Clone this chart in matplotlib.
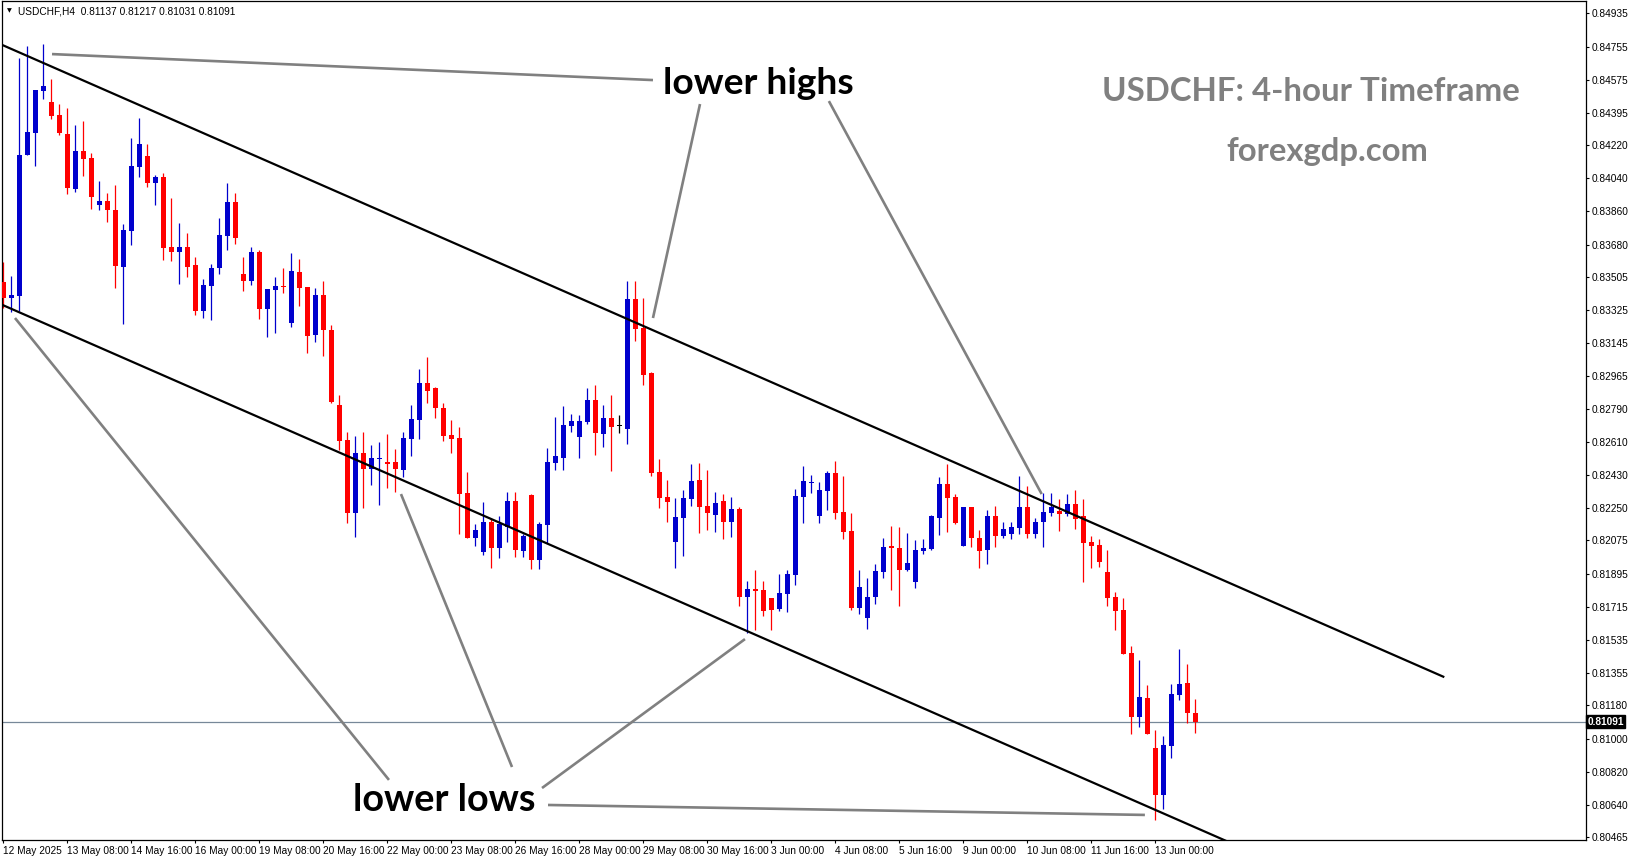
import numpy as np
import matplotlib
matplotlib.use("Agg")
import matplotlib.pyplot as plt
import matplotlib.transforms as mtransforms

# USDCHF H4 candles, prices in points (1e-5)
open_pts = [83479, 83392, 83403, 84166, 84287, 84513, 84454, 84383, 84280, 83983,
            84188, 84150, 83896, 83917, 83868, 83560, 83755, 84103, 84161, 84014,
            84047, 83667, 83642, 83667, 83569, 83320, 83455, 83553, 83727, 83911,
            83521, 83483, 83642, 83331, 83434, 83455, 83256, 83531, 83450, 83190,
            83407, 83217, 82810, 82620, 82226, 82551, 82464, 82517, 82501, 82501,
            82457, 82625, 82729, 82931, 82904, 82795, 82647, 82632, 82332, 82090,
            82014, 82177, 82036, 82146, 82291, 82018, 82322, 81969, 82159, 82497,
            82524, 82696, 82638, 82716, 82837, 82652, 82738, 82696, 82680, 83383,
            83229, 82985, 82448, 82311, 82068, 82198, 82302, 82403, 82262, 82213,
            82289, 82177, 82246, 81770, 81812, 81806, 81761, 81703, 81785, 81888,
            82313, 82388, 82209, 82345, 82441, 82228, 82126, 81707, 81656, 81767,
            81905, 82045, 82034, 81915, 81851, 82019, 82029, 82198, 82381, 82311,
            82047, 82257, 82090, 82023, 82208, 82101, 82112, 82144, 82257, 82112,
            82173, 82226, 82235, 82218, 82273, 82208, 82067, 82050, 81904, 81768,
            81698, 81465, 81119, 81220, 80949, 80696, 80962, 81237, 81302, 81137]
high_pts = [83587, 83510, 84691, 84757, 84519, 84768, 84578, 84443, 84420, 84329,
            84351, 84177, 84025, 83960, 84003, 83792, 84257, 84367, 84226, 84056,
            84067, 83931, 83799, 83743, 83611, 83495, 83575, 83824, 84014, 83960,
            83613, 83667, 83651, 83439, 83504, 83553, 83634, 83602, 83450, 83443,
            83483, 83244, 82864, 82663, 82642, 82665, 82593, 82611, 82652, 82570,
            82665, 82810, 83005, 83072, 82909, 82821, 82729, 82690, 82448, 82164,
            82282, 82190, 82208, 82336, 82336, 82110, 82327, 82177, 82575, 82746,
            82806, 82761, 82756, 82900, 82918, 82810, 82864, 82756, 83483, 83483,
            83389, 82990, 82517, 82403, 82307, 82349, 82490, 82494, 82457, 82338,
            82325, 82311, 82258, 81855, 81915, 81855, 81763, 81893, 81915, 82354,
            82479, 82430, 82394, 82452, 82506, 82425, 82222, 81915, 81870, 81947,
            82087, 82153, 82148, 82114, 82078, 82083, 82213, 82419, 82490, 82327,
            82257, 82257, 82132, 82240, 82262, 82175, 82175, 82425, 82370, 82197,
            82334, 82334, 82300, 82327, 82349, 82300, 82099, 82083, 82023, 81794,
            81761, 81502, 81426, 81291, 81047, 81014, 81296, 81486, 81405, 81217]
low_pts = [83335, 83316, 83320, 84166, 84108, 84470, 84363, 84275, 83956, 83967,
           84054, 83875, 83868, 83804, 83446, 83249, 83679, 84048, 83994, 83895,
           83597, 83593, 83466, 83504, 83298, 83284, 83271, 83521, 83651, 83683,
           83428, 83461, 83276, 83180, 83200, 83419, 83235, 83349, 83094, 83153,
           83076, 82819, 82566, 82171, 82095, 82253, 82376, 82267, 82361, 82340,
           82421, 82535, 82625, 82822, 82741, 82615, 82551, 82112, 82090, 82047,
           81996, 81927, 81978, 82068, 81987, 81987, 81918, 81918, 82060, 82457,
           82457, 82665, 82524, 82707, 82539, 82584, 82453, 82656, 82598, 83159,
           82918, 82425, 82253, 82177, 81927, 81992, 82264, 82117, 82132, 82122,
           82081, 82095, 81719, 81573, 81589, 81667, 81589, 81692, 81689, 81833,
           82171, 82331, 82171, 82240, 82190, 82081, 81698, 81676, 81593, 81729,
           81870, 81806, 81721, 81909, 81819, 82002, 82023, 82105, 82122, 82163,
           82047, 82041, 81927, 81949, 82041, 82090, 82083, 82112, 82087, 82087,
           82041, 82209, 82126, 82209, 82139, 81850, 81927, 81933, 81719, 81589,
           81461, 81023, 81065, 81025, 80559, 80618, 80896, 81210, 81083, 81031]
close_pts = [83389, 83407, 84166, 84291, 84519, 84540, 84379, 84287, 83989, 84188,
             84146, 83940, 83917, 83868, 83566, 83759, 84106, 84226, 84014, 84047,
             83663, 83642, 83667, 83559, 83320, 83461, 83553, 83732, 83911, 83716,
             83483, 83642, 83331, 83439, 83455, 83450, 83537, 83446, 83184, 83407,
             83217, 82824, 82616, 82226, 82551, 82464, 82522, 82522, 82491, 82464,
             82629, 82734, 82931, 82886, 82795, 82643, 82625, 82329, 82090, 82132,
             82177, 82036, 82164, 82291, 82023, 82101, 81969, 82164, 82502, 82533,
             82701, 82723, 82723, 82837, 82660, 82738, 82692, 82696, 83383, 83222,
             82974, 82443, 82307, 82285, 82204, 82307, 82399, 82258, 82222, 82280,
             82177, 82246, 81770, 81812, 81802, 81694, 81698, 81792, 81893, 82316,
             82399, 82394, 82349, 82441, 82222, 82122, 81707, 81821, 81767, 81909,
             82040, 82032, 81915, 81951, 82023, 82036, 82208, 82381, 82307, 82171,
             82257, 82090, 82019, 82208, 82101, 82137, 82148, 82257, 82112, 82175,
             82229, 82255, 82220, 82273, 82191, 82063, 82047, 81960, 81765, 81694,
             81461, 81119, 81226, 81025, 80696, 80965, 81242, 81296, 81137, 81091]

time_labels = ["12 May 2025", "13 May 08:00", "14 May 16:00", "16 May 00:00", "19 May 08:00",
               "20 May 16:00", "22 May 00:00", "23 May 08:00", "26 May 16:00", "28 May 00:00",
               "29 May 08:00", "30 May 16:00", "3 Jun 00:00", "4 Jun 08:00", "5 Jun 16:00",
               "9 Jun 00:00", "10 Jun 08:00", "11 Jun 16:00", "13 Jun 00:00"]

price_ticks = [0.84935, 0.84755, 0.84575, 0.84395, 0.84220, 0.84040, 0.83860, 0.83680,
               0.83505, 0.83325, 0.83145, 0.82965, 0.82790, 0.82610, 0.82430, 0.82250,
               0.82075, 0.81895, 0.81715, 0.81535, 0.81355, 0.81180, 0.81000, 0.80820,
               0.80640, 0.80465]

# channel lines (candle index, price)
upper_channel_x = [0, 180]
upper_channel_p = [0.84761, 0.81336]
lower_channel_x = [0, 180]
lower_channel_p = [0.83351, 0.79929]

# grey pointer lines (candle index, price)
pointers = [
    ([6.09, 81.21], [0.84714, 0.84573]),
    ([87.09, 81.21], [0.84443, 0.83282]),
    ([103.2, 129.8], [0.84459, 0.82327]),
    ([1.46, 48.21], [0.83282, 0.80776]),
    ([49.71, 63.59], [0.82327, 0.80846]),
    ([92.71, 67.34], [0.81540, 0.80732]),
    ([68.09, 142.7], [0.80640, 0.80586]),
]

o = np.array(open_pts) / 1e5
h = np.array(high_pts) / 1e5
l = np.array(low_pts) / 1e5
c = np.array(close_pts) / 1e5
idx = np.arange(len(o))

W, H = 1631, 861
fig = plt.figure(figsize=(W / 100, H / 100), dpi=100)
fig.patch.set_facecolor("white")
ax = fig.add_axes([2 / W, 21 / H, 1584 / W, 839 / H])
ax.set_xlim(-0.1625, 197.84)
ax.set_ylim(0.80450, 0.85002)

BLUE = "#0000CD"
RED = "#FF0000"
cols = np.where(c > o, BLUE, RED)
cols = np.where(c == o, "black", cols)

ax.vlines(idx, l, h, colors=cols, lw=0.9, zorder=2)
body_lo = np.minimum(o, c)
body_h = np.maximum(np.abs(c - o), 0.00006)
ax.bar(idx, body_h, bottom=body_lo, width=0.64, color=cols, lw=0, zorder=3)

# bid line
last = c[-1]
ax.axhline(last, color="#778899", lw=0.9, zorder=1)

# channel
ax.plot(upper_channel_x, upper_channel_p, color="black", lw=1.6, zorder=4)
ax.plot(lower_channel_x, lower_channel_p, color="black", lw=1.6, zorder=4)
for px, pp in pointers:
    ax.plot(px, pp, color="#808080", lw=1.9, zorder=5, solid_capstyle="butt")

# axes styling
for s in ax.spines.values():
    s.set_linewidth(0.9)
    s.set_color("black")
ax.yaxis.tick_right()
ax.set_yticks(price_ticks)
ax.set_yticklabels(["%.5f" % v for v in price_ticks])
ax.set_xticks(idx[::8])
ax.set_xticklabels(time_labels)
ax.tick_params(axis="both", direction="out", length=2.2, width=0.8, color="black",
               labelsize=7.3, pad=2)
for t in ax.get_xticklabels():
    t.set_ha("left")
    t.set_fontfamily("Liberation Sans")
for t in ax.get_yticklabels():
    t.set_fontfamily("Liberation Sans")

# bid price box
trans = mtransforms.blended_transform_factory(ax.transAxes, ax.transData)
ax.text(1.0008, last, "%.5f" % last, transform=trans, ha="left", va="center",
        fontsize=7.3, family="Liberation Sans", color="white", fontweight="bold",
        bbox=dict(boxstyle="square,pad=0.15", fc="black", ec="black"))

# header
fig.text(7 / W, 1 - 11 / H, "\u25bc", fontsize=4.5, va="center", ha="left", color="black")
fig.text(18 / W, 1 - 11 / H, "USDCHF,H4  %.5f %.5f %.5f %.5f" % (o[-1], h[-1], l[-1], c[-1]),
         fontsize=7.3, family="Liberation Sans", va="center", ha="left")

# annotations
fig.text(758 / W, 1 - 83 / H, "lower highs", fontsize=26.8, fontweight="bold",
         family="Lato", ha="center", va="center", color="black")
fig.text(444.5 / W, 1 - 800 / H, "lower lows", fontsize=27.2, fontweight="bold",
         family="Lato", ha="center", va="center", color="black")
fig.text(1310.5 / W, 1 - 91.5 / H, "USDCHF: 4-hour Timeframe", fontsize=23.8, fontweight="bold",
         family="Lato", ha="center", va="center", color="#808080")
fig.text(1327.5 / W, 1 - 151 / H, "forexgdp.com", fontsize=23.7, fontweight="bold",
         family="Lato", ha="center", va="center", color="#808080")

fig.savefig("out.png", dpi=100, facecolor="white")
